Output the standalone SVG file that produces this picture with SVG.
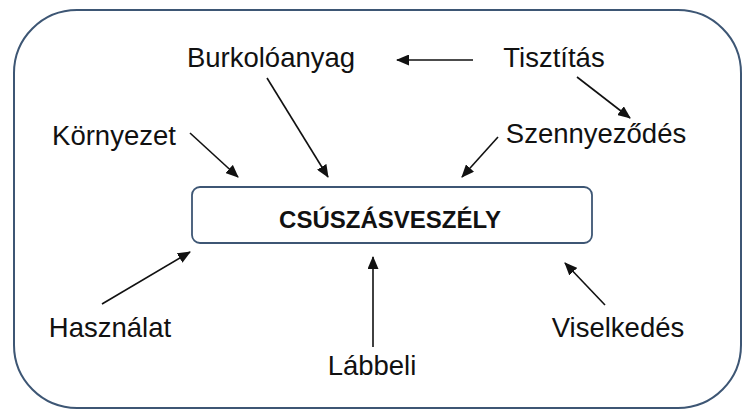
<svg xmlns="http://www.w3.org/2000/svg" width="744" height="411" viewBox="0 0 744 411">
<defs>
<style>
.frame{fill:#ffffff;stroke:#3d5674;stroke-width:2}
.box{fill:#ffffff;stroke:#3d5674;stroke-width:1.8}
.lbl{font-family:"Liberation Sans",Arial,sans-serif;font-size:27.5px;fill:#111111;text-anchor:middle}
.title{font-family:"Liberation Sans",Arial,sans-serif;font-size:24px;font-weight:bold;fill:#111111;text-anchor:middle}
.arr{stroke:#111111;stroke-width:1.6;fill:none;marker-end:url(#ah)}
</style>
<marker id="ah" viewBox="0 0 13 11" refX="12" refY="5.5" markerWidth="13" markerHeight="11" markerUnits="userSpaceOnUse" orient="auto">
<path d="M0,0 L13,5.5 L0,11 Z" fill="#111111"/>
</marker>
</defs>
<rect width="744" height="411" fill="#ffffff"/>
<rect id="frame" class="frame" x="14" y="10" width="727" height="398" rx="63" ry="63"/>
<g id="center">
<rect class="box" x="192" y="187" width="400" height="56" rx="8" ry="8"/>
<text class="title" x="390" y="228">CSÚSZÁSVESZÉLY</text>
</g>
<g id="burkoloanyag"><text class="lbl" x="271" y="67">Burkolóanyag</text></g>
<g id="tisztitas"><text class="lbl" x="554" y="67">Tisztítás</text></g>
<g id="kornyezet"><text class="lbl" x="114" y="145">Környezet</text></g>
<g id="szennyezodes"><text class="lbl" x="596" y="143">Szennyeződés</text></g>
<g id="hasznalat"><text class="lbl" x="110" y="337">Használat</text></g>
<g id="viselkedes"><text class="lbl" x="618" y="337">Viselkedés</text></g>
<g id="labbeli"><text class="lbl" x="372" y="375">Lábbeli</text></g>
<g id="connectors">
<line class="arr" x1="473" y1="60" x2="397" y2="60"/>
<line class="arr" x1="577" y1="77" x2="630" y2="118"/>
<line class="arr" x1="498" y1="137" x2="462" y2="177"/>
<line class="arr" x1="267" y1="78" x2="328" y2="177"/>
<line class="arr" x1="190" y1="133" x2="238" y2="177"/>
<line class="arr" x1="102" y1="304" x2="190" y2="252"/>
<line class="arr" x1="373" y1="347" x2="373" y2="257"/>
<line class="arr" x1="605" y1="305" x2="565" y2="263"/>
</g>
</svg>
